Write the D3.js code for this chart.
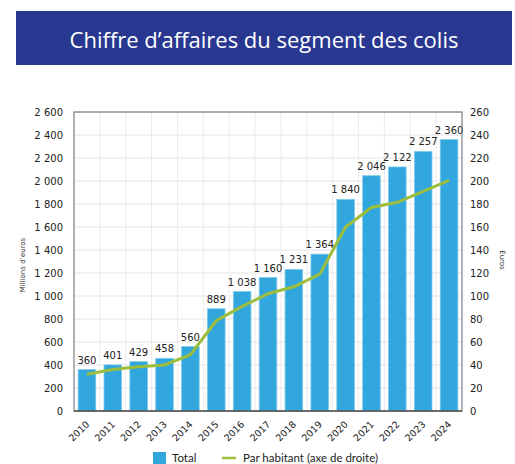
<!DOCTYPE html>
<html>
<head>
<meta charset="utf-8">
<script src="https://cdn.jsdelivr.net/npm/d3@7"></script>
<style>
  body { margin: 0; background: #fff; }
  svg { display: block; }
</style>
</head>
<body>
<script>
// data
var years = ['2010','2011','2012','2013','2014','2015','2016','2017','2018','2019','2020','2021','2022','2023','2024'];
var totals = [360, 401, 429, 458, 560, 889, 1038, 1160, 1231, 1364, 1840, 2046, 2122, 2257, 2360];
var perHabitant = [32, 36, 38.5, 40, 49, 78.5, 91, 102, 108, 119, 160, 177, 181.5, 191, 200.5];
var leftTicks = [0, 200, 400, 600, 800, 1000, 1200, 1400, 1600, 1800, 2000, 2200, 2400, 2600];
var rightTicks = [0, 20, 40, 60, 80, 100, 120, 140, 160, 180, 200, 220, 240, 260];

var W = 515, H = 464;
var pLeft = 74, pRight = 462, pTop = 112, pBottom = 411;

var fmt = function(v) { return d3.format(',')(v).replace(/,/g, ' '); };

var svg = d3.select('body').append('svg')
  .attr('width', W)
  .attr('height', H);

// title banner
svg.append('rect')
  .attr('x', 16).attr('y', 11)
  .attr('width', 496).attr('height', 54)
  .attr('fill', '#283891');
svg.append('text')
  .attr('x', 264).attr('y', 47.5)
  .attr('text-anchor', 'middle')
  .attr('fill', '#fff')
  .style('font-family', '"Open Sans", sans-serif')
  .style('font-size', '22px')
  .text('Chiffre d\u2019affaires du segment des colis');

var x = d3.scaleBand().domain(years).range([pLeft, pRight]).paddingInner(0.32).paddingOuter(0.16);
var yL = d3.scaleLinear().domain([0, 2600]).range([pBottom, pTop]);
var yR = d3.scaleLinear().domain([0, 260]).range([pBottom, pTop]);

var gap = x.step() - x.bandwidth();

// grid
svg.append('g').selectAll('line')
  .data(leftTicks.slice(1))
  .enter().append('line')
  .attr('x1', pLeft).attr('x2', pRight)
  .attr('y1', function(d) { return yL(d); })
  .attr('y2', function(d) { return yL(d); })
  .attr('stroke', '#e4e4e4');
svg.append('g').selectAll('line')
  .data(years.slice(1))
  .enter().append('line')
  .attr('x1', function(d) { return x(d) - gap / 2; })
  .attr('x2', function(d) { return x(d) - gap / 2; })
  .attr('y1', pTop).attr('y2', pBottom)
  .attr('stroke', '#ececec');

// bars
svg.append('g').selectAll('rect')
  .data(totals)
  .enter().append('rect')
  .attr('x', function(d, i) { return x(years[i]); })
  .attr('y', function(d) { return yL(d); })
  .attr('width', x.bandwidth())
  .attr('height', function(d) { return pBottom - yL(d); })
  .attr('fill', '#31a7de')
  .attr('stroke', '#7cc9ec')
  .attr('stroke-width', 0.8);

// value labels
svg.append('g').selectAll('text')
  .data(totals)
  .enter().append('text')
  .attr('x', function(d, i) { return x(years[i]) + x.bandwidth() / 2; })
  .attr('y', function(d) { return yL(d) - 6; })
  .attr('text-anchor', 'middle')
  .attr('fill', '#222')
  .style('font-family', 'DejaVu Sans, sans-serif')
  .style('font-size', '10px')
  .text(function(d) { return fmt(d); });

// per habitant line
var line = d3.line()
  .x(function(d, i) { return x(years[i]) + x.bandwidth() / 2; })
  .y(function(d) { return yR(d); });
svg.append('path')
  .datum(perHabitant)
  .attr('d', line)
  .attr('fill', 'none')
  .attr('stroke', '#9dbd3c')
  .attr('stroke-width', 3);

// frame
svg.append('rect')
  .attr('x', pLeft).attr('y', pTop)
  .attr('width', pRight - pLeft).attr('height', pBottom - pTop)
  .attr('fill', 'none')
  .attr('stroke', '#666')
  .attr('stroke-width', 1);
svg.append('line')
  .attr('x1', pLeft).attr('x2', pRight)
  .attr('y1', pBottom).attr('y2', pBottom)
  .attr('stroke', '#555').attr('stroke-width', 1.5);

// axes
var axL = svg.append('g')
  .attr('transform', 'translate(' + pLeft + ',0)')
  .call(d3.axisLeft(yL).tickValues(leftTicks).tickSize(0).tickPadding(11).tickFormat(fmt));
var axR = svg.append('g')
  .attr('transform', 'translate(' + pRight + ',0)')
  .call(d3.axisRight(yR).tickValues(rightTicks).tickSize(0).tickPadding(8));
var axB = svg.append('g')
  .attr('transform', 'translate(0,' + pBottom + ')')
  .call(d3.axisBottom(x).tickSize(0));
[axL, axR, axB].forEach(function(a) {
  a.select('.domain').remove();
  a.selectAll('text')
    .attr('fill', '#222')
    .style('font-family', 'DejaVu Sans, sans-serif')
    .style('font-size', '10px');
});
axB.selectAll('text')
  .attr('text-anchor', 'end')
  .attr('dy', null)
  .attr('y', 0)
  .attr('transform', 'translate(3,14) rotate(-45)')
  .style('font-size', '9.5px');

// axis titles
svg.append('text')
  .attr('transform', 'translate(25,265) rotate(-90)')
  .attr('text-anchor', 'middle')
  .attr('fill', '#333')
  .style('font-family', 'DejaVu Sans, sans-serif')
  .style('font-size', '7px')
  .text('Millions d\u2019euros');
svg.append('text')
  .attr('transform', 'translate(500,260) rotate(90)')
  .attr('text-anchor', 'middle')
  .attr('fill', '#333')
  .style('font-family', 'DejaVu Sans, sans-serif')
  .style('font-size', '7px')
  .text('Euros');

// legend
var lg = svg.append('g')
  .style('font-family', 'Lato, sans-serif')
  .style('font-size', '11.5px')
  .attr('fill', '#222');
lg.append('rect')
  .attr('x', 153).attr('y', 452)
  .attr('width', 13).attr('height', 13)
  .attr('fill', '#31a7de');
lg.append('text').attr('x', 172).attr('y', 462).text('Total');
lg.append('line')
  .attr('x1', 222).attr('x2', 236)
  .attr('y1', 458).attr('y2', 458)
  .attr('stroke', '#9dbd3c').attr('stroke-width', 2.5);
lg.append('text').attr('x', 243).attr('y', 462).text('Par habitant (axe de droite)');
</script>
</body>
</html>
